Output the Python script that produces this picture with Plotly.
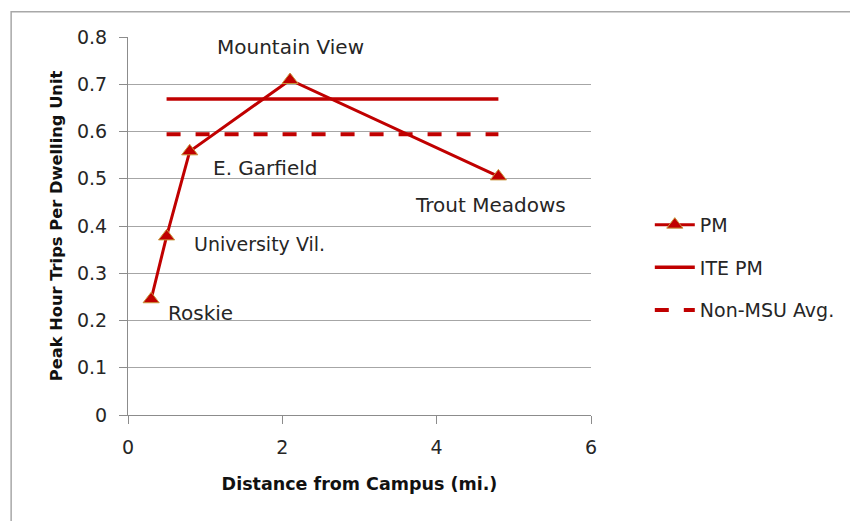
import plotly.graph_objects as go

# Data
site_names = ["Roskie", "University Vil.", "E. Garfield", "Mountain View", "Trout Meadows"]
distance_mi = [0.3, 0.5, 0.8, 2.1, 4.8]
pm_trips = [0.245, 0.378, 0.558, 0.709, 0.505]

ite_x = [0.5, 4.8]
ite_pm = [0.669, 0.669]

nonmsu_x = [0.5, 4.8]
nonmsu_avg = [0.594, 0.594]

x_ticks = [0, 2, 4, 6]
y_ticks = [0, 0.1, 0.2, 0.3, 0.4, 0.5, 0.6, 0.7, 0.8]
y_tick_labels = ["0", "0.1", "0.2", "0.3", "0.4", "0.5", "0.6", "0.7", "0.8"]

RED = "#C00000"
FONT = "DejaVu Sans, sans-serif"
TXT = "#262626"

fig = go.Figure()
fig.add_trace(go.Scatter(
    x=distance_mi, y=pm_trips, name="PM", mode="lines+markers",
    line=dict(color=RED, width=3),
    marker=dict(symbol="triangle-up", size=14, color=RED,
                line=dict(color="#C8963C", width=1)),
    legendgroup="a",
))
fig.add_trace(go.Scatter(
    x=ite_x, y=ite_pm, name="ITE PM", mode="lines",
    line=dict(color=RED, width=3.5), legendgroup="b",
))
fig.add_trace(go.Scatter(
    x=nonmsu_x, y=nonmsu_avg, name="Non-MSU Avg.", mode="lines",
    line=dict(color=RED, width=4, dash="14px,15px"), legendgroup="c",
))

# point labels
offsets = {
    "Roskie": dict(xanchor="left", xshift=15, yshift=-14, size=20),
    "University Vil.": dict(xanchor="left", xshift=25, yshift=-8, size=19),
    "E. Garfield": dict(xanchor="left", xshift=21, yshift=-17, size=20),
    "Mountain View": dict(xanchor="center", xshift=0, yshift=33, size=20),
    "Trout Meadows": dict(xanchor="center", xshift=-8, yshift=-29, size=20),
}
for name, xv, yv in zip(site_names, distance_mi, pm_trips):
    o = offsets[name]
    fig.add_annotation(x=xv, y=yv, text=name, showarrow=False,
                       xanchor=o["xanchor"], yanchor="middle",
                       xshift=o["xshift"], yshift=o["yshift"],
                       font=dict(family=FONT, size=o["size"], color=TXT))

# outer chart border
fig.add_shape(type="rect", xref="paper", yref="paper",
              x0=-0.2524, x1=2.0, y0=-1.0, y1=1.0668,
              line=dict(color="#a8a8a8", width=1.5), fillcolor="rgba(0,0,0,0)",
              layer="below")

fig.update_layout(
    width=850, height=513,
    margin=dict(l=120, r=266.5, t=29, b=105.5),
    paper_bgcolor="white", plot_bgcolor="white",
    font=dict(family=FONT, size=19, color=TXT),
    showlegend=True,
    legend=dict(x=1.127, y=0.5535, xanchor="left", yanchor="top",
                traceorder="grouped", tracegroupgap=15,
                font=dict(family=FONT, size=19, color=TXT),
                bgcolor="rgba(0,0,0,0)", itemwidth=40),
    xaxis=dict(range=[0, 6], tickvals=x_ticks, ticktext=[str(v) for v in x_ticks],
               showgrid=False, zeroline=False, showline=True,
               linecolor="#8c8c8c", linewidth=1,
               ticks="outside", ticklen=8, tickcolor="#8c8c8c",
               ticklabelstandoff=7,
               tickfont=dict(family=FONT, size=19, color=TXT),
               title=dict(text="<b>Distance from Campus (mi.)</b>",
                          font=dict(family=FONT, size=17.5, color="#111111"),
                          standoff=20)),
    yaxis=dict(range=[0, 0.8], tickvals=y_ticks, ticktext=y_tick_labels,
               showgrid=True, gridcolor="#a6a6a6", gridwidth=1,
               zeroline=False, showline=True,
               linecolor="#8c8c8c", linewidth=1,
               ticks="outside", ticklen=8, tickcolor="#8c8c8c",
               ticklabelstandoff=8,
               tickfont=dict(family=FONT, size=19, color=TXT),
               title=dict(text="<b>Peak Hour Trips Per Dwelling Unit</b>",
                          font=dict(family=FONT, size=16.3, color="#111111"),
                          standoff=10)),
)

fig.write_html("out.html")
